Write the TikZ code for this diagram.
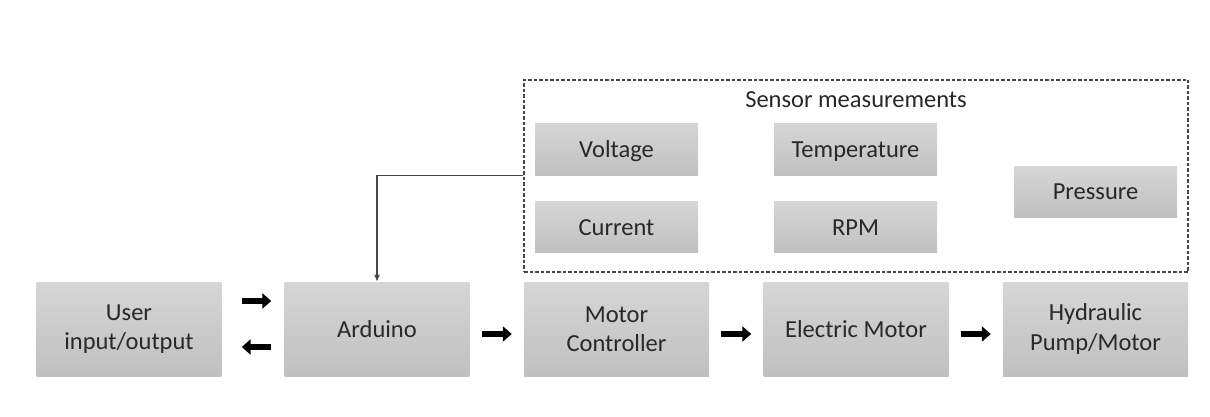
\documentclass[tikz,border=0pt]{standalone}
\usepackage{fontspec}
\setmainfont{Carlito}
\usetikzlibrary{arrows.meta,positioning}
\definecolor{boxtop}{RGB}{214,214,214}
\definecolor{boxbot}{RGB}{192,192,192}
\definecolor{txt}{RGB}{40,40,40}
\definecolor{dashc}{RGB}{70,70,70}
\tikzset{
  blockbox/.style={draw=none, top color=boxtop, bottom color=boxbot, text=txt,
    minimum width=185pt, minimum height=94pt, align=center, inner sep=0pt,
    font=\fontsize{24.5}{29.5}\selectfont},
  oneline/.style={text height=18pt, text depth=2pt},
  sensbox/.style={blockbox, oneline, minimum width=163pt, minimum height=51pt},
  flowarrow/.style={line width=5.5pt, -{Triangle[length=9pt,width=15pt]}},
  tapline/.style={draw=dashc, line width=1.3pt, -{Latex[length=7pt,width=6pt]}},
  groupbox/.style={draw=dashc, line width=1.2pt, dash pattern=on 3.5pt off 2pt, inner sep=0pt}
}
\begin{document}
\begin{tikzpicture}[x=1pt,y=-1pt]
\useasboundingbox (0,0) rectangle (1210,417);
% sensor group
\node[groupbox, minimum width=664pt, minimum height=192pt] (sensors) at (856,176) {};
\node[text=txt, font=\fontsize{24.5}{29.5}\selectfont] (senslabel) at (856,100) {Sensor measurements};
\node[sensbox] (volt) at (616.5,149.5) {Voltage};
\node[sensbox] (curr) at (616.5,227) {Current};
\node[sensbox] (temp) at (855.5,149.5) {Temperature};
\node[sensbox] (rpm) at (855.5,227) {RPM};
\node[sensbox] (press) at (1095.5,191.5) {Pressure};
% main chain
\node[blockbox] (user) at (129,329) {User\\input/output};
\node[blockbox, oneline] (ard) at (377,329) {Arduino};
\node[blockbox] (mc) at (616.5,329) {Motor\\Controller};
\node[blockbox, oneline] (em) at (856,329) {Electric Motor};
\node[blockbox] (hyd) at (1095.5,329) {Hydraulic\\Pump/Motor};
% arrows
\draw[flowarrow, shorten <=20pt, shorten >=13pt] ([yshift=28pt]user.east) -- ([yshift=28pt]ard.west);
\draw[flowarrow, shorten <=13pt, shorten >=20pt] ([yshift=-18pt]ard.west) -- ([yshift=-18pt]user.east);
\draw[flowarrow, shorten <=12pt, shorten >=12pt] ([yshift=-5pt]ard.east) -- ([yshift=-5pt]mc.west);
\draw[flowarrow, shorten <=12pt, shorten >=12pt] ([yshift=-5pt]mc.east) -- ([yshift=-5pt]em.west);
\draw[flowarrow, shorten <=12pt, shorten >=12pt] ([yshift=-5pt]em.east) -- ([yshift=-5pt]hyd.west);
% tap from sensors to arduino
\coordinate (tap) at (sensors.west |- volt.south);
\draw[tapline] (tap) -| (ard.north);
\end{tikzpicture}
\end{document}
